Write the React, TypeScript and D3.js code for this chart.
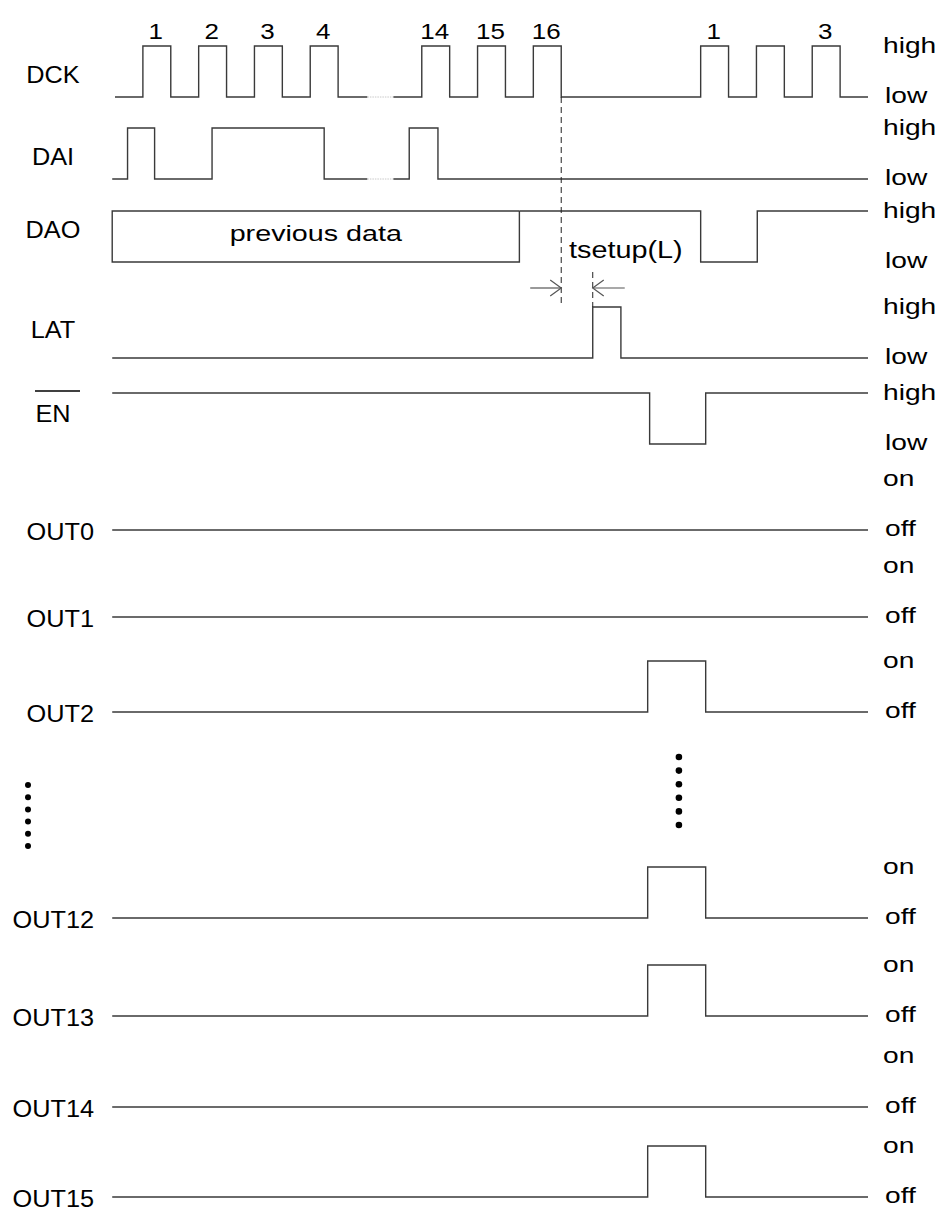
import * as d3 from 'd3'

// time unit = half a DCK period
const rowNames = ['DCK', 'DAI', 'DAO', 'LAT', 'EN', 'OUT0', 'OUT1', 'OUT2', 'OUT12', 'OUT13', 'OUT14', 'OUT15']
const rowKind = ['hl', 'hl', 'hl', 'hl', 'hl', 'oo', 'oo', 'oo', 'oo', 'oo', 'oo', 'oo']
// initial level (1 = high/on), edge times, start time
const startLevel = [0, 0, 1, 0, 1, 0, 0, 0, 0, 0, 0, 0]
const startTime = [0, -0.1, 14.5, -0.1, -0.1, -0.1, -0.1, -0.1, -0.1, -0.1, -0.1, -0.1]
const endTime = 27
const edges: number[][] = [
  [1, 2, 3, 4, 5, 6, 7, 8, 11, 12, 13, 14, 15, 16, 21, 22, 23, 24, 25, 26],
  [0.45, 1.42, 3.48, 7.5, 10.55, 11.58],
  [21, 23.03],
  [17.13, 18.14],
  [19.17, 21.18],
  [],
  [],
  [19.1, 21.18],
  [19.1, 21.18],
  [19.1, 21.18],
  [],
  [19.1, 21.18],
]
const gapRows = ['DCK', 'DAI']
const gap = [9.05, 9.98]
const dckPulseLabels = ['1', '2', '3', '4', '14', '15', '16', '1', '', '3']
const prevData = { label: 'previous data', from: -0.1, to: 14.5 }
const setupMarks = { latch: 16, lat: 17.13, label: 'tsetup(L)' }
const dotCountLeft = 6
const dotCountMid = 6
const dotTime = 20.22

// layout
const W = 937
const H = 1213
const AMP = 51
const rowLow = [97, 179, 262, 358, 444, 530, 617, 712, 918, 1016, 1107, 1197]
const leftBase = [83, 165, 238, 338, 422]
const FONT = '"Liberation Sans", Arial, sans-serif'
const STROKE = '#3a3a3a'

type Pt = [number, number]

function wave(t0: number, lvl: number, ed: number[], t1: number): Pt[] {
  const pts: Pt[] = [[t0, lvl]]
  let cur = lvl
  ed.forEach(e => {
    pts.push([e, cur])
    cur = 1 - cur
    pts.push([e, cur])
  })
  pts.push([t1, cur])
  return pts
}

function splitAt(pts: Pt[], a: number, b: number): Pt[][] {
  const before: Pt[] = pts.filter(p => p[0] <= a)
  const after: Pt[] = pts.filter(p => p[0] >= b)
  const lvlA = before[before.length - 1][1]
  before.push([a, lvlA])
  after.unshift([b, lvlA])
  return [before, after]
}

function T(props: { x: number; y: number; sx?: number; size?: number; anchor?: string; children: string }) {
  const { x, y, sx = 1.1, size = 23, anchor = 'start', children } = props
  return (
    <text
      transform={`translate(${x},${y}) scale(${sx},1)`}
      fontSize={size}
      fontFamily={FONT}
      textAnchor={anchor}
      fill="#000"
    >
      {children}
    </text>
  )
}

export default function App() {
  const x = d3.scaleLinear().domain([0, 27]).range([115, 868])

  const rows = rowNames.map((name, i) => {
    const low = rowLow[i]
    const y = d3.scaleLinear().domain([0, 1]).range([low, low - AMP])
    const line = d3.line<Pt>().x(d => x(d[0])).y(d => y(d[1]))
    const pts = wave(startTime[i], startLevel[i], edges[i], endTime)
    const parts = gapRows.includes(name) ? splitAt(pts, gap[0], gap[1]) : [pts]
    return { name, i, low, y, line, pts, parts }
  })

  // DCK pulse centres for the count labels
  const dckRise = edges[0].filter((_, k) => k % 2 === 0)
  const dckFall = edges[0].filter((_, k) => k % 2 === 1)

  const daoY = rows[2].y
  const latY = rows[3].y
  const dckY = rows[0].y
  const arrowY = 288

  const arrow = (tipX: number, dir: number) =>
    `M${tipX - dir * 11},${arrowY - 8} L${tipX},${arrowY} L${tipX - dir * 11},${arrowY + 8}`

  const leftDots = d3.range(dotCountLeft).map(k => 785 + k * 12.2)
  const midDots = d3.range(dotCountMid).map(k => 757 + k * 13.6)

  return (
    <svg width={W} height={H} viewBox={`0 0 ${W} ${H}`} style={{ display: 'block', background: '#fff' }}>
      <style>{'body{margin:0}'}</style>

      {/* waveforms */}
      {rows.map(r => (
        <g key={r.name}>
          {r.parts.map((p, k) => (
            <path key={k} d={r.line(p) ?? ''} fill="none" stroke={STROKE} strokeWidth={1.4} />
          ))}
          {gapRows.includes(r.name) && (
            <line
              x1={x(gap[0])}
              x2={x(gap[1])}
              y1={r.y(0)}
              y2={r.y(0)}
              stroke="#c8c8c8"
              strokeWidth={1}
              strokeDasharray="1.5,1"
            />
          )}
        </g>
      ))}

      {/* DAO previous-data box */}
      <path
        d={`M${x(prevData.to)},${daoY(1)} L${x(prevData.from)},${daoY(1)} L${x(prevData.from)},${daoY(0)} L${x(prevData.to)},${daoY(0)} L${x(prevData.to)},${daoY(1)}`}
        fill="none"
        stroke={STROKE}
        strokeWidth={1.4}
      />
      <T x={(x(prevData.from) + x(prevData.to)) / 2} y={241} anchor="middle" sx={1.27} size={22.6}>
        {prevData.label}
      </T>

      {/* DCK count labels */}
      {dckPulseLabels.map((lab, k) =>
        lab ? (
          <T key={k} x={(x(dckRise[k]) + x(dckFall[k])) / 2 - 1} y={39} anchor="middle" sx={1.18} size={22}>
            {lab}
          </T>
        ) : null
      )}

      {/* setup time markers */}
      <line
        x1={x(setupMarks.latch)}
        x2={x(setupMarks.latch)}
        y1={dckY(0)}
        y2={306}
        stroke="#222"
        strokeWidth={1}
        strokeDasharray="6,4"
      />
      <line
        x1={x(setupMarks.lat)}
        x2={x(setupMarks.lat)}
        y1={272}
        y2={latY(1)}
        stroke="#222"
        strokeWidth={1}
        strokeDasharray="6,4"
      />
      <line x1={x(setupMarks.latch) - 31} x2={x(setupMarks.latch)} y1={arrowY} y2={arrowY} stroke="#555" strokeWidth={1.2} />
      <path d={arrow(x(setupMarks.latch), 1)} fill="none" stroke="#555" strokeWidth={1.2} />
      <line x1={x(setupMarks.lat)} x2={x(setupMarks.lat) + 32} y1={arrowY} y2={arrowY} stroke="#555" strokeWidth={1.2} />
      <path d={arrow(x(setupMarks.lat), -1)} fill="none" stroke="#555" strokeWidth={1.2} />
      <T x={569} y={258} sx={1.2} size={24}>
        {setupMarks.label}
      </T>

      {/* left labels */}
      {rows.map(r =>
        r.i < 5 ? (
          <T key={r.name} x={53} y={leftBase[r.i]} anchor="middle">
            {r.name}
          </T>
        ) : (
          <T key={r.name} x={94} y={r.low + 10} anchor="end">
            {r.name}
          </T>
        )
      )}
      <line x1={35} x2={80} y1={391} y2={391} stroke="#000" strokeWidth={1.4} />

      {/* right labels */}
      {rows.map(r => (
        <g key={r.name}>
          <T x={883} y={r.y(1) + 7} sx={1.28} size={22}>
            {rowKind[r.i] === 'hl' ? 'high' : 'on'}
          </T>
          <T x={885} y={r.y(0) + 6} sx={1.28} size={22}>
            {rowKind[r.i] === 'hl' ? 'low' : 'off'}
          </T>
        </g>
      ))}

      {/* ellipsis dots */}
      {leftDots.map((d, k) => (
        <circle key={'l' + k} cx={28} cy={d} r={3} fill="#000" />
      ))}
      {midDots.map((d, k) => (
        <circle key={'m' + k} cx={x(dotTime)} cy={d} r={3.3} fill="#000" />
      ))}
    </svg>
  )
}
